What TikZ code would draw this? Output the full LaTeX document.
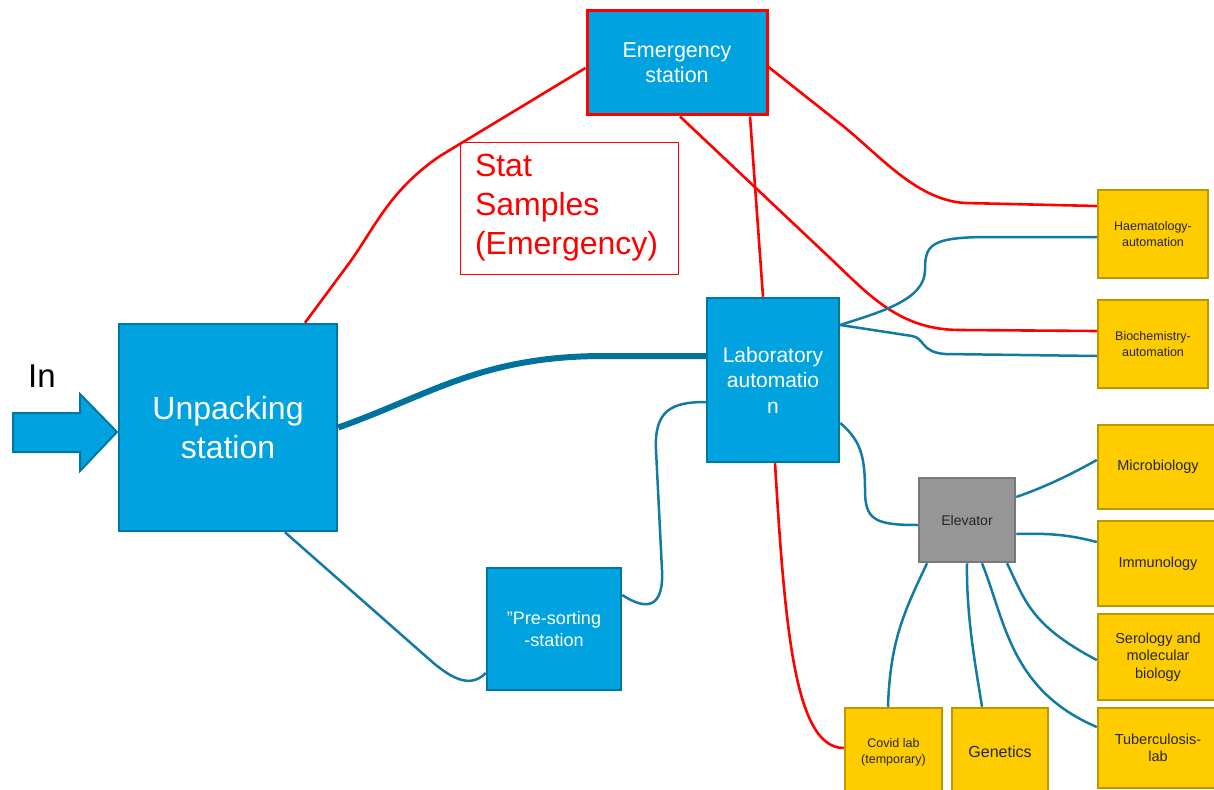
\documentclass[tikz,border=0pt]{standalone}
\usepackage{fontspec}
\setmainfont{Liberation Sans}
\usetikzlibrary{positioning}

\definecolor{stationblue}{RGB}{0,163,224}
\definecolor{stationedge}{RGB}{0,120,165}
\definecolor{linkblue}{RGB}{18,122,163}
\definecolor{trunkblue}{RGB}{0,114,158}
\definecolor{labyellow}{RGB}{255,204,0}
\definecolor{labedge}{RGB}{190,150,0}
\definecolor{liftgray}{RGB}{150,150,150}
\definecolor{liftedge}{RGB}{120,120,120}
\newcommand{\fsz}[2]{\fontsize{#1}{#2}\selectfont}

\begin{document}
\begin{tikzpicture}[x=1pt, y=-1pt,
    station/.style={draw=stationedge, line width=2.5pt, fill=stationblue, text=white, align=center, inner sep=0pt},
    lab/.style={draw=labedge, line width=2.5pt, fill=labyellow, text=black!85, align=center, inner sep=0pt, minimum width=120pt},
    redlink/.style={red, line width=2.6pt, line join=round},
    bluelink/.style={linkblue, line width=2.5pt, line join=round}]
    \useasboundingbox (0,0) rectangle (1214,789);
    \clip (0,0) rectangle (1214,789);

    % stations
    \node[station, minimum width=218pt, minimum height=207pt, font=\fsz{32}{39}] (unpack) at (228,427.5) {Unpacking\\station};
    \node[station, draw=red, line width=3pt, minimum width=180pt, minimum height=104pt, font=\fsz{21.5}{25}] (emerg) at (677,63) {Emergency\\station};
    \node[draw=red, line width=1pt, text=red, align=left, text width=188pt, inner xsep=15pt, minimum height=132pt, font=\fsz{32}{39}] (stat) at (569,208) {Stat\\Samples\\(Emergency)};
    \node[station, minimum width=132pt, minimum height=164pt, font=\fsz{21}{25.5}] (labauto) at (773,380) {Laboratory\\automatio\\n};
    \node[station, minimum width=134pt, minimum height=122pt, font=\fsz{18}{22}] (presort) at (554,629) {”Pre-sorting\\-station};
    \node[draw=liftedge, line width=2.5pt, fill=liftgray, text=black!85, minimum width=96pt, minimum height=84pt, font=\fsz{14}{17}] (elev) at (967,520) {Elevator};

    % labs
    \node[lab, minimum width=110pt, minimum height=88pt, font=\fsz{12.5}{15.5}] (haem) at (1153,234) {Haematology-\\automation};
    \node[lab, minimum width=110pt, minimum height=88pt, font=\fsz{12.5}{15.5}] (biochem) at (1153,344) {Biochemistry-\\automation};
    \node[lab, minimum height=84pt, font=\fsz{14.5}{17.5}] (micro) at (1158,467) {Microbiology};
    \node[lab, minimum height=85pt, font=\fsz{14.5}{17.5}] (immun) at (1158,563.5) {Immunology};
    \node[lab, minimum height=86pt, font=\fsz{14.5}{17.5}] (sero) at (1158,657) {Serology and\\molecular\\biology};
    \node[lab, minimum height=80pt, font=\fsz{14.5}{17.5}] (tuber) at (1158,748) {Tuberculosis-\\lab};
    \node[lab, minimum width=97pt, minimum height=88pt, font=\fsz{12.5}{16}] (covid) at (893.5,752) {Covid lab\\(temporary)};
    \node[lab, minimum width=96pt, minimum height=88pt, font=\fsz{16}{19}] (genet) at (1000,752) {Genetics};

    % incoming arrow
    \draw[stationedge, line width=2pt, fill=stationblue] (13,413) -- (80,413) -- (80,394) -- (117,432) -- (80,471) -- (80,452) -- (13,452) -- cycle;
    \node[font=\fsz{33}{40}] (inlabel) at (42,376) {In};

    % emergency links
    \draw[redlink] ([xshift=77pt]unpack.north) -- (350,262) .. controls (375,227) and (390,190) .. (440,156) -- ([yshift=-5pt]emerg.west);
    \draw[redlink] ([yshift=-4pt]emerg.east) -- (838,122) .. controls (878,153) and (915,200) .. (965,203) -- ([yshift=28pt]haem.west);
    \draw[redlink] ([xshift=3pt]emerg.south) -- (830,258) .. controls (870,296) and (900,330) .. (960,330) -- ([yshift=13pt]biochem.west);
    \draw[redlink] ([xshift=73pt]emerg.south) -- ([xshift=-10pt]labauto.north);
    \draw[redlink] ([xshift=2pt]labauto.south) .. controls (785,630) and (795,748) .. ([yshift=4pt]covid.west);

    % sample flow
    \draw[trunkblue, line width=6pt] (unpack.east) .. controls (430,395) and (480,357) .. (600,356) -- ([yshift=24pt]labauto.west);
    \draw[bluelink] ([xshift=57pt]unpack.south) -- (430,660) .. controls (455,682) and (472,687) .. ([yshift=-44pt]presort.west);
    \draw[bluelink] ([yshift=34pt]presort.east) .. controls (645,610) and (664,610) .. (662,570) -- (656,450) .. controls (654,410) and (672,402) .. ([yshift=-22pt]labauto.west);
    \draw[bluelink] ([yshift=55pt]labauto.east) .. controls (880,312) and (925,300) .. (925,270) .. controls (925,245) and (930,237) .. (990,237) -- ([yshift=-3pt]haem.west);
    \draw[bluelink] ([yshift=55pt]labauto.east) -- (912,336) .. controls (925,338) and (920,352) .. (945,354) -- ([yshift=-12pt]biochem.west);
    \draw[bluelink] ([yshift=-43pt]labauto.east) .. controls (860,440) and (865,455) .. (865,490) .. controls (865,520) and (875,525) .. ([yshift=-5pt]elev.west);

    % elevator to labs
    \draw[bluelink] ([yshift=23pt]elev.east) .. controls (1045,487) and (1070,475) .. ([yshift=7pt]micro.west);
    \draw[bluelink] ([yshift=-14pt]elev.east) .. controls (1050,533) and (1070,535) .. ([yshift=21.5pt]immun.west);
    \draw[bluelink] ([xshift=40pt]elev.south) .. controls (1025,600) and (1030,625) .. ([yshift=-3pt]sero.west);
    \draw[bluelink] ([xshift=15pt]elev.south) .. controls (1005,620) and (1010,690) .. ([yshift=21pt]tuber.west);
    \draw[bluelink] (elev.south) .. controls (966,620) and (978,680) .. ([xshift=-18pt]genet.north);
    \draw[bluelink] ([xshift=-40pt]elev.south) .. controls (905,610) and (890,640) .. ([xshift=-5.5pt]covid.north);
\end{tikzpicture}
\end{document}
